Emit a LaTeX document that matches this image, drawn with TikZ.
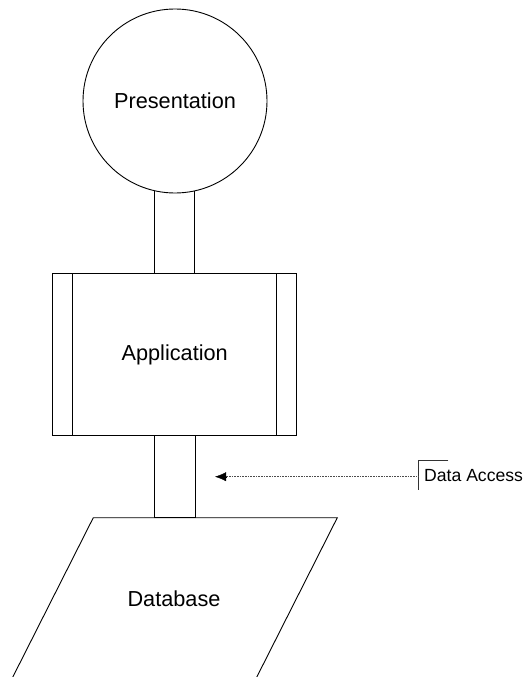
\documentclass[tikz,border=0pt]{standalone}
\usepackage{fontspec}
\setmainfont{Liberation Sans}
\usetikzlibrary{arrows.meta}
\tikzset{
  shapeline/.style={draw=black, line width=0.9pt},
  mainlabel/.style={font=\fontsize{21.7}{26}\selectfont},
  smalllabel/.style={font=\fontsize{17.6}{21}\selectfont},
}
\begin{document}
\begin{tikzpicture}[x=1pt,y=-1pt]
\useasboundingbox (0,0) rectangle (524,677);
% application box
\node[shapeline, rectangle, minimum width=244pt, minimum height=162pt, inner sep=0pt, mainlabel] (app) at (174.7,354.7) {Application};
\draw[shapeline] ([xshift=20.6pt]app.north west) -- ([xshift=20.6pt]app.south west);
\draw[shapeline] ([xshift=-20.6pt]app.north east) -- ([xshift=-20.6pt]app.south east);
% presentation circle
\node[shapeline, circle, minimum size=184pt, inner sep=0pt, mainlabel] (pres) at (175,101) {Presentation};
% upper connector
\draw[shapeline] (pres.257.1) -- (pres.257.1 |- app.north);
\draw[shapeline] (pres.282.9) -- (pres.282.9 |- app.north);
% lower connector
\node[shapeline, rectangle, minimum width=41pt, minimum height=82pt, inner sep=0pt] (conn) at (175,476.7) {};
% database parallelogram
\coordinate (dbtl) at (93.3,517.7);
\coordinate (dbtr) at (337.3,517.7);
\coordinate (dbbl) at (12.8,677);
\coordinate (dbbr) at (256.8,677);
\draw[shapeline] (dbbl) -- (dbtl) -- (dbtr) -- (dbbr);
\node[mainlabel] (db) at (174,599) {Database};
% data access annotation
\node[smalllabel, anchor=west, inner xsep=5.7pt, inner ysep=0pt, minimum height=29.3pt] (da) at (418.3,475.3) {Data Access};
\draw[draw=black!80, line width=0.8pt] ([xshift=30pt]da.north west) -- (da.north west) -- (da.south west);
\coordinate (tip) at (215,476.7);
\draw[draw=black!70, line width=0.8pt, dash pattern=on 0.8pt off 0.8pt] (da.west |- tip) -- ([xshift=10pt]tip);
\draw[draw=black, -{Latex[length=11pt,width=9pt]}] ([xshift=10.5pt]tip) -- (tip);
\end{tikzpicture}
\end{document}
